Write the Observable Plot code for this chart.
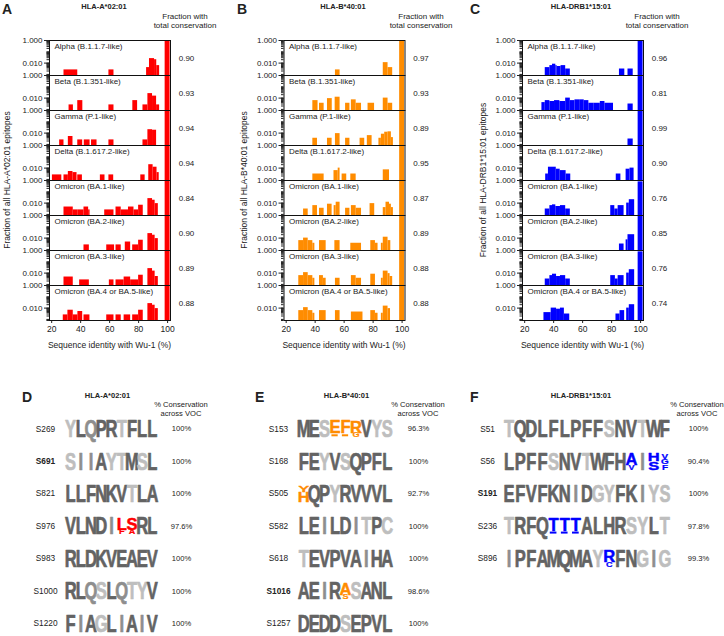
<!DOCTYPE html>
<html><head><meta charset="utf-8">
<script src="https://cdn.jsdelivr.net/npm/d3@7"></script>
<script src="https://cdn.jsdelivr.net/npm/@observablehq/plot@0.6"></script>
<style>
body{margin:0;background:#fff;font-family:"Liberation Sans",Arial,Helvetica,sans-serif;}
#root{position:relative;width:724px;height:636px;overflow:hidden;background:#fff;}
.abs{position:absolute;white-space:nowrap;color:#222;line-height:1.15;text-align:center;}
.plot{position:absolute;top:0;}
</style></head><body><div id="root"></div>
<script>
// ---------------- DATA ----------------
const variants = ["Alpha (B.1.1.7-like)","Beta (B.1.351-like)","Gamma (P.1-like)","Delta (B.1.617.2-like)","Omicron (BA.1-like)","Omicron (BA.2-like)","Omicron (BA.3-like)","Omicron (BA.4 or BA.5-like)"];
const alleles = ["HLA-A*02:01","HLA-B*40:01","HLA-DRB1*15:01"];
// fraction with total conservation (= height of the 100% identity bin)
const fracA = [0.90,0.93,0.94,0.94,0.84,0.90,0.89,0.88];
const fracB = [0.97,0.93,0.89,0.95,0.87,0.89,0.88,0.88];
const fracC = [0.96,0.81,0.99,0.90,0.76,0.85,0.76,0.74];
const fullBin = [98.3,101.7];
// histogram bins below 100% identity: [from %, to %, fraction of epitopes]
const histA = [
 [[28.5,38,0.0025],[59.5,63,0.0025],[85.5,87.5,0.004],[87.5,91,0.025],[91,92.5,0.02],[92.5,94.5,0.006]],
 [[32,35,0.0025],[38,41.5,0.006],[59.5,63,0.0025],[76,79.3,0.006],[83,86.4,0.0025],[86.4,89.6,0.025],[89.6,92.4,0.015],[92.4,94.5,0.0025]],
 [[25.5,28.5,0.0025],[31.5,34.7,0.005],[38,41.4,0.0025],[42.5,46.5,0.0025],[47.5,51.3,0.0025],[59.5,63,0.0025],[83,86.4,0.0025],[86.4,89.6,0.02],[89.6,92.4,0.018]],
 [[20.5,27,0.0025],[28.5,31.5,0.0025],[31.5,34.7,0.005],[34.7,37.5,0.004],[38,41.2,0.0025],[53.6,56.8,0.0025],[59.5,62.8,0.0025],[81.5,84.5,0.0025],[87,90,0.02],[90,92.7,0.012],[92.7,94.2,0.004]],
 [[28.5,34.9,0.0045],[34.9,38,0.0025],[38,42.3,0.0025],[42.3,45.5,0.0045],[45.5,46.5,0.0025],[56.6,63,0.0025],[64.4,68,0.0045],[68,73,0.0025],[73,76.8,0.0045],[76.8,80,0.0025],[80,83.2,0.0065],[86.4,89.6,0.025],[89.6,91.4,0.018],[91.4,93.6,0.009]],
 [[42.3,46,0.0025],[58,63.4,0.0025],[64.4,68,0.0025],[70.8,74.5,0.0045],[75.9,80,0.0025],[80,83.2,0.0065],[86.4,89.6,0.025],[89.6,91.4,0.018],[91.4,93.6,0.009]],
 [[28.5,34.9,0.0045],[39.3,46,0.0025],[59.8,63,0.0025],[64.4,70,0.0025],[70,74.5,0.0045],[74.5,80,0.0025],[80,83.2,0.0065],[86.4,89.6,0.025],[89.6,91.4,0.015],[91.4,93.6,0.005]],
 [[28,31.2,0.0025],[31.2,34.9,0.0065],[34.9,38.1,0.0025],[38.1,41.4,0.005],[42.3,46.4,0.0025],[58,63,0.0025],[64.4,68,0.0025],[70,74.5,0.0025],[75.9,80,0.0025],[80,83.2,0.0065],[86.4,89.6,0.025],[89.6,91.4,0.018],[91.4,93.6,0.009]]
];
const histB = [
 [[54,57.2,0.0025],[87,90.3,0.011],[90.3,93.5,0.004]],
 [[38.4,42,0.006],[43,46.2,0.0035],[48.5,51.8,0.009],[53.8,57.2,0.012],[61,64,0.0035],[65,68.3,0.007],[68.3,72,0.0035],[76.5,81,0.0035],[87,90.3,0.01],[90.3,93.5,0.0035]],
 [[38.4,41.6,0.0035],[48.5,51.7,0.0035],[54,57.2,0.009],[61,64,0.0035],[71,74.2,0.0035],[76,79.3,0.006],[84,85.7,0.0035],[85.7,88,0.008],[88,90.3,0.012],[90.3,92.6,0.013],[92.6,94,0.004]],
 [[38.4,46.2,0.003],[53,55.9,0.006],[55.9,57.2,0.01],[58.6,61.8,0.003],[64.6,68.3,0.003],[87,91.3,0.007]],
 [[32,35.2,0.003],[38.4,41.6,0.006],[43,46.2,0.0035],[48.5,51.7,0.008],[53.1,54.5,0.006],[54.5,57.2,0.012],[61,64,0.0035],[65,68.3,0.006],[68.3,72,0.0035],[77.9,81.1,0.009],[87,88.9,0.004],[88.9,91.3,0.012],[91.3,92.6,0.008],[92.6,94,0.004]],
 [[28.7,32,0.006],[32,35.2,0.01],[35.2,38.4,0.006],[38.4,39.8,0.0035],[43,47.6,0.006],[53.6,57.2,0.006],[64.6,72,0.0035],[78.4,81.6,0.006],[81.6,83.4,0.0035],[85.7,87,0.0035],[87,90.3,0.012],[90.3,92.2,0.006]],
 [[28.7,32,0.006],[32,35.2,0.011],[35.2,38.4,0.006],[38.4,39.8,0.0035],[43,45.7,0.006],[45.7,47.6,0.0035],[54,57.2,0.0035],[65,68.3,0.006],[68.3,72,0.0035],[78.4,81.6,0.008],[85.7,87,0.0035],[87,90.3,0.015],[90.3,91.7,0.009],[91.7,93.5,0.005]],
 [[28.7,32,0.006],[32,35.2,0.011],[35.2,38.4,0.006],[38.4,39.8,0.0035],[43,47.6,0.006],[54,57.2,0.006],[65,73,0.0045],[78.4,81.6,0.006],[81.6,83.4,0.0035],[85.7,87,0.0035],[87,90.3,0.015],[90.3,92,0.009]]
];
const histC = [
 [[34.2,37.4,0.004],[37.4,39.2,0.006],[39.2,41.5,0.008],[41.5,42.4,0.006],[42.4,45.1,0.005],[45.1,48.3,0.006],[48.3,51.5,0.003],[85.4,89.1,0.003],[91.3,94.9,0.003]],
 [[31.9,34.2,0.004],[34.2,37.4,0.006],[37.4,40.6,0.005],[40.6,44.3,0.006],[44.3,48.3,0.005],[48.3,51.5,0.01],[51.5,54.7,0.006],[54.7,58.4,0.007],[58.4,61.1,0.007],[61.1,64.3,0.006],[64.3,68,0.0035],[68,72.2,0.0035],[72.2,75.4,0.005],[75.4,81.3,0.0035],[91.3,94.9,0.003]],
 [[91.3,94.9,0.003]],
 [[34.5,36.4,0.003],[36.4,41.8,0.012],[41.8,44.5,0.008],[44.5,48.6,0.006],[48.6,51.8,0.003],[83.2,86.4,0.003],[90,92.7,0.008],[92.7,95.5,0.01]],
 [[34.2,37.4,0.003],[37.4,39.2,0.006],[39.2,41.5,0.007],[41.5,44.7,0.005],[44.7,48.3,0.006],[48.3,51.5,0.003],[79.4,82.2,0.006],[82.2,84.5,0.003],[84.5,88.6,0.006],[90.4,92.2,0.01],[92.2,95.9,0.02]],
 [[85.4,88.6,0.003],[90,91.3,0.007],[91.3,95.9,0.02]],
 [[34.2,37.4,0.003],[37.4,39.2,0.006],[39.2,42,0.008],[42,44.7,0.005],[44.7,48.3,0.006],[48.3,51.5,0.003],[79.4,82.6,0.006],[82.6,84.5,0.003],[84.5,88.6,0.006],[90.4,92.2,0.01],[92.2,95.9,0.02]],
 [[33.3,38.3,0.004],[38.3,42,0.01],[42,44.7,0.008],[44.7,47.4,0.01],[47.4,51.1,0.003],[83,85.8,0.003],[85.8,89,0.006],[90.4,92.2,0.01],[92.2,95.9,0.02]]
];
const xTicks = [20,40,60,80,100];
const yTicks = [1,0.01];

// sequence logos: shade code D = dark, M = medium, L = light, C = variant colour
const rowsD = [
 {site:"S269", seq:"YLQPRTFLL", shade:"LDMDDLDDD", pct:"100%"},
 {site:"S691", seq:"SIIAYTMSL", shade:"LMMDLLDLD", pct:"100%", bold:true},
 {site:"S821", seq:"LLFNKVTLA", shade:"DDDDDDLDD", pct:"100%"},
 {site:"S976", seq:"VLNDILSRL", shade:"DDDDMCCDD", pct:"97.6%"},
 {site:"S983", seq:"RLDKVEAEV", shade:"DDDDDDDDD", pct:"100%"},
 {site:"S1000", seq:"RLQSLQTYV", shade:"DDMLDMLLD", pct:"100%"},
 {site:"S1220", seq:"FIAGLIAIV", shade:"DMDLDMDMD", pct:"100%"}
];
const rowsE = [
 {site:"S153", seq:"MESEFRVYS", shade:"DDLCCCDLL", pct:"96.3%"},
 {site:"S168", seq:"FEYVSQPFL", shade:"DDLDLDDDD", pct:"100%"},
 {site:"S505", seq:"YQPYRVVVL", shade:"CDDLDDDDD", pct:"92.7%"},
 {site:"S582", seq:"LEILDITPC", shade:"DDMDDMLDL", pct:"100%"},
 {site:"S618", seq:"TEVPVAIHA", shade:"LDDDDDMDD", pct:"100%"},
 {site:"S1016", seq:"AEIRASANL", shade:"DDMDCLDDD", pct:"98.6%", bold:true},
 {site:"S1257", seq:"DEDDSEPVL", shade:"DDDDLDDDD", pct:"100%"}
];
const rowsF = [
 {site:"S51", seq:"TQDLFLPFFSNVTWF", shade:"LDDDDDDDDLDDLDD", pct:"100%"},
 {site:"S56", seq:"LPFFSNVTWFHAIHV", shade:"DDDDLDDLDDDCMCC", pct:"90.4%"},
 {site:"S191", seq:"EFVFKNIDGYFKIYS", shade:"DDDDDDMDLLDDMLL", pct:"100%", bold:true},
 {site:"S236", seq:"TRFQTTTALHRSYLT", shade:"LDDDCCCDDDDLLDL", pct:"97.8%"},
 {site:"S896", seq:"IPFAMQMAYRFNGIG", shade:"MDDDDDDDLCDDLML", pct:"99.3%"}
];
// stacked (variable) positions: letter and share of the column height; "_" = deletion
const stacksD = [
 {site:"S976", pos:5, letters:[["L",0.72],["F",0.28]]},
 {site:"S976", pos:6, letters:[["S",0.72],["A",0.28]]}
];
const stacksE = [
 {site:"S153", pos:3, letters:[["E",0.76],["_",0.24]]},
 {site:"S153", pos:4, letters:[["F",0.76],["_",0.24]]},
 {site:"S153", pos:5, letters:[["R",0.72],["G",0.28]]},
 {site:"S505", pos:0, letters:[["Y",0.4],["H",0.6]]},
 {site:"S1016", pos:4, letters:[["A",0.72],["S",0.28]]}
];
const stacksF = [
 {site:"S56", pos:11, letters:[["A",0.72],["V",0.28]]},
 {site:"S56", pos:13, letters:[["H",0.5],["S",0.5]]},
 {site:"S56", pos:14, letters:[["V",0.34],["G",0.33],["F",0.33]]},
 {site:"S236", pos:4, letters:[["T",0.76],["_",0.24]]},
 {site:"S236", pos:5, letters:[["T",0.76],["_",0.24]]},
 {site:"S236", pos:6, letters:[["T",0.76],["_",0.24]]},
 {site:"S896", pos:9, letters:[["R",0.72],["C",0.28]]}
];

// ---------------- STYLE ----------------
const FONT = '"Liberation Sans", Arial, Helvetica, sans-serif';
const RED = "#ff0000", ORANGE = "#ff8c00", BLUE = "#0000ff";
const SHADES = {D: "#636363", M: "#8e8e8e", L: "#bebebe"};
const Y_DOMAIN = [0.0008, 1];
const X_DOMAIN = [18.5, 102];
const root = document.getElementById("root");

function place(el, left, top) {
  el.classList.add("plot");
  el.style.left = left + "px"; el.style.top = top + "px";
  root.appendChild(el);
}
function label(text, x, y, o = {}) {
  const d = document.createElement("div");
  d.className = "abs";
  d.innerHTML = text;
  d.style.left = x + "px"; d.style.top = y + "px";
  d.style.fontSize = (o.size || 8) + "px";
  d.style.fontWeight = o.weight || "normal";
  const tx = o.anchor === "start" ? "0" : o.anchor === "end" ? "-100%" : "-50%";
  d.style.transform = `translate(${tx},-50%)` + (o.rotate ? ` rotate(${o.rotate}deg)` : "");
  if (o.lh) d.style.lineHeight = o.lh;
  root.appendChild(d);
}

const minorTicks = [];
for (const e of [0.0001, 0.001, 0.01, 0.1]) for (let k = 1; k <= 9; k++) { const v = +(k * e).toPrecision(3); if (v >= Y_DOMAIN[0] && v <= 1) minorTicks.push(v); }
minorTicks.push(1);

function histPlot(hist, frac, color, ml) {
  const bars = hist.flatMap((bins, i) => bins.map(([x1, x2, v]) => ({variant: variants[i], x1, x2, v})));
  const full = variants.map((variant, i) => ({variant, f: frac[i]}));
  return Plot.plot({
    width: 240, height: 360, marginLeft: ml, marginRight: 240 - ml - 121, marginTop: 37.5, marginBottom: 37,
    style: {fontFamily: FONT, fontSize: "8px", color: "#222", background: "none", overflow: "visible"},
    x: {domain: X_DOMAIN},
    y: {type: "log", domain: Y_DOMAIN},
    fy: {domain: variants, padding: 0, axis: null},
    marks: [
      Plot.rect(bars, {fy: "variant", x1: "x1", x2: "x2", y1: Y_DOMAIN[0], y2: "v", fill: color}),
      Plot.rect(full, {fy: "variant", x1: fullBin[0], x2: fullBin[1], y1: Y_DOMAIN[0], y2: "f", fill: color}),
      Plot.axisY({ticks: minorTicks, tickSize: 2.5, text: null, label: null}),
      Plot.axisY({ticks: yTicks, tickFormat: d3.format(".3f"), tickSize: 5, tickPadding: 2, label: null, fontSize: 8}),
      Plot.axisX({ticks: xTicks, tickSize: 3, tickPadding: 2.5, label: null, fontSize: 8.5}),
      Plot.frame({stroke: "#111", strokeWidth: 1}),
      Plot.text(variants, {fy: d => d, text: d => d, frameAnchor: "top-left", textAnchor: "start", lineAnchor: "top", dx: 5, dy: 3, fontSize: 8}),
      Plot.text(full, {fy: "variant", text: d => d.f.toFixed(2), frameAnchor: "right", textAnchor: "middle", dx: 16, fontSize: 8})
    ]
  });
}

// logo
const CAP = 0.50;    // cap height in row units
const SX = 0.72;     // horizontal condensation of the glyphs
function logoData(rows, stacks, accent) {
  const letters = [], dashes = [];
  rows.forEach((r, ri) => {
    [...r.seq].forEach((ch, pi) => {
      const code = r.shade[pi];
      const color = code === "C" ? accent : SHADES[code];
      const st = stacks.find(s => s.site === r.site && s.pos === pi);
      const top = ri - CAP / 2;
      if (!st) { letters.push({ri, pi, ch, color, top, h: 1, w: 1}); return; }
      let cum = 0;
      for (const [c, f] of st.letters) {
        if (c === "_") dashes.push({y: top + (cum + f * 0.55) * CAP, x1: pi - 0.3, x2: pi + 0.3});
        else letters.push({ri, pi, ch: c, color, top: top + cum * CAP, h: f, w: f < 0.3 ? 0.55 : f < 0.37 ? 0.6 : 1});
        cum += f;
      }
    });
  });
  return {letters, dashes};
}
function logoPlot(rows, stacks, accent, width, ml, mr, labDx, pctDx) {
  const {letters, dashes} = logoData(rows, stacks, accent);
  const rowIdx = rows.map((r, i) => ({...r, i}));
  const svg = Plot.plot({
    width, height: 256, marginLeft: ml, marginRight: mr, marginTop: 16, marginBottom: 0,
    style: {fontFamily: FONT, fontSize: "8px", color: "#222", background: "none", overflow: "visible"},
    x: {domain: [-0.5, rows[0].seq.length - 0.5], axis: null},
    y: {domain: [-1, 6.4], reverse: true, axis: null},
    marks: [
      Plot.text(letters, {x: "pi", y: "top", text: "ch", fill: "color", stroke: "color", strokeWidth: 0.7, lineAnchor: "top", fontSize: 23, fontWeight: "bold"}),
      Plot.ruleY(dashes, {y: "y", x1: "x1", x2: "x2", stroke: accent, strokeWidth: 2}),
      Plot.text(rowIdx.filter(r => !r.bold), {y: "i", text: "site", frameAnchor: "left", textAnchor: "middle", dx: labDx, fontSize: 8.3}),
      Plot.text(rowIdx.filter(r => r.bold), {y: "i", text: "site", frameAnchor: "left", textAnchor: "middle", dx: labDx, fontSize: 8.3, fontWeight: "bold"}),
      Plot.text(rowIdx, {y: "i", text: "pct", frameAnchor: "right", textAnchor: "middle", dx: pctDx, fontSize: 7.6})
    ]
  });
  // condense the glyphs and scale stacked ones to their share of the column
  const groups = [...svg.querySelectorAll("g")].filter(g => g.querySelectorAll(":scope > text").length === letters.length);
  if (groups.length) groups[0].querySelectorAll(":scope > text").forEach((t, k) => {
    const d = letters[k];
    t.setAttribute("transform", (t.getAttribute("transform") || "") + ` scale(${SX * d.w},${d.h})`);
  });
  return svg;
}

// ---------------- DRAW ----------------
place(histPlot(histA, fracA, RED, 49), 0, 0);
place(histPlot(histB, fracB, ORANGE, 47.5), 236, 0);
place(histPlot(histC, fracC, BLUE, 46), 476, 0);

place(logoPlot(rowsD, stacksD, RED, 240, 65, 83, -20, 24), 0, 380);
place(logoPlot(rowsE, stacksE, ORANGE, 240, 58, 88, -20, 26), 240, 380);
place(logoPlot(rowsF, stacksF, BLUE, 244, 23, 54, -16, 28), 480, 380);

// panel letters, titles and headers
[["A",2],["B",237],["C",470]].forEach(([t,x]) => label(t, x, 9, {size: 14, weight: "bold", anchor: "start"}));
[["D",22],["E",255],["F",470]].forEach(([t,x]) => label(t, x, 397, {size: 14, weight: "bold", anchor: "start"}));
[[alleles[0],104],[alleles[1],343],[alleles[2],581]].forEach(([t,x]) => label(t, x, 7, {size: 7.5, weight: "bold"}));
[[alleles[0],107.5],[alleles[1],346.5],[alleles[2],581]].forEach(([t,x]) => label(t, x, 396, {size: 7.5, weight: "bold"}));
[185,421,657].forEach(x => label("Fraction with<br>total conservation", x, 20.5, {size: 8, lh: "9.5px"}));
[181,418,697].forEach(x => label("% Conservation<br>across VOC", x, 409, {size: 7.6, lh: "9px"}));
[[alleles[0],8],[alleles[1],245],[alleles[2],484]].forEach(([a,x]) => label(`Fraction of all ${a} epitopes`, x, 180, {size: 8.5, rotate: -90}));
[109.5,344,582.5].forEach(x => label("Sequence identity with Wu-1 (%)", x, 346, {size: 8.5}));
</script></body></html>
